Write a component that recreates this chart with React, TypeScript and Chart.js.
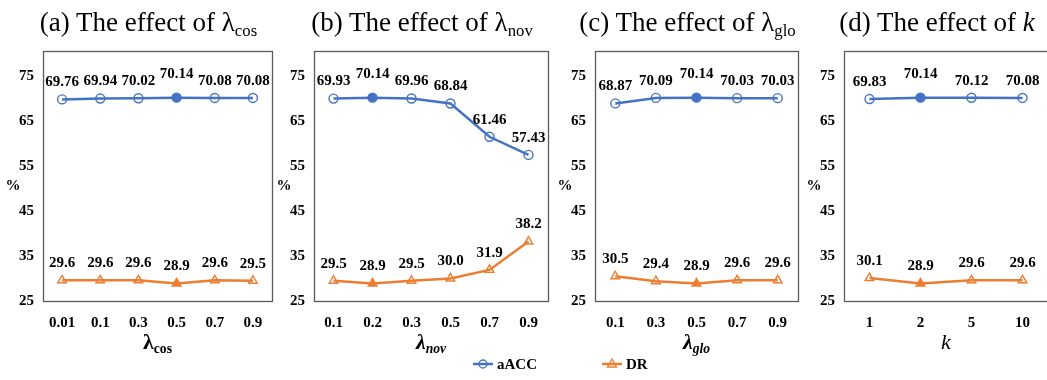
import React, { useEffect, useRef } from 'react';
import { Chart, registerables } from 'chart.js';

Chart.register(...registerables);

// ---------------- data ----------------
const cosLabels = ['0.01', '0.1', '0.3', '0.5', '0.7', '0.9'];
const cosACC = [69.76, 69.94, 70.02, 70.14, 70.08, 70.08];
const cosDR = [29.6, 29.6, 29.6, 28.9, 29.6, 29.5];

const novLabels = ['0.1', '0.2', '0.3', '0.5', '0.7', '0.9'];
const novACC = [69.93, 70.14, 69.96, 68.84, 61.46, 57.43];
const novDR = [29.5, 28.9, 29.5, 30.0, 31.9, 38.2];

const gloLabels = ['0.1', '0.3', '0.5', '0.7', '0.9'];
const gloACC = [68.87, 70.09, 70.14, 70.03, 70.03];
const gloDR = [30.5, 29.4, 28.9, 29.6, 29.6];

const kLabels = ['1', '2', '5', '10'];
const kACC = [69.83, 70.14, 70.12, 70.08];
const kDR = [30.1, 28.9, 29.6, 29.6];

const chosenSettings = ['0.5', '0.2', '0.5', '2'];
const yTicks = [25, 35, 45, 55, 65, 75];
const yMin = 25;
const yMax = 80.5;
const seriesNames = ['aACC', 'DR'];

// ---------------- style ----------------
const FONT = "'Liberation Serif', 'Times New Roman', serif";
const BLUE = '#4472C4';
const ORANGE = '#ED7D31';
const BOX_TOP = 51;
const BOX_BOTTOM = 301;
const Y_AXIS_W = 43;
const X_AXIS_H = 34;
const RIGHT_PAD = 30;

const boxPlugin = {
  id: 'boxFrame',
  beforeDatasetsDraw(chart: any) {
    const { ctx, chartArea: a } = chart;
    ctx.save();
    ctx.strokeStyle = '#5a5a5a';
    ctx.lineWidth = 1.3;
    ctx.strokeRect(
      Math.round(a.left) + 0.5,
      Math.round(a.top) + 0.5,
      Math.round(a.right - a.left),
      Math.round(a.bottom - a.top)
    );
    ctx.restore();
  },
};

const valuePlugin = {
  id: 'valueLabels',
  afterDatasetsDraw(chart: any, _args: any, opts: any) {
    const { ctx } = chart;
    ctx.save();
    ctx.font = `bold 15px ${FONT}`;
    ctx.fillStyle = '#000';
    ctx.textAlign = 'center';
    ctx.textBaseline = 'middle';
    chart.data.datasets.forEach((ds: any, di: number) => {
      const meta = chart.getDatasetMeta(di);
      const dec = opts.decimals[di];
      meta.data.forEach((pt: any, i: number) => {
        const v = ds.data[i] as number;
        let off = 17;
        if (i === opts.chosen && di === 0) off = 24;
        ctx.fillText(v.toFixed(dec), pt.x, pt.y - off);
      });
    });
    ctx.restore();
  },
};

type PanelCfg = {
  labels: string[];
  acc: number[];
  dr: number[];
  chosen: string;
  boxLeft: number;
  boxRight: number;
  title: React.ReactNode;
  xTitle: React.ReactNode;
};

function Panel({ cfg }: { cfg: PanelCfg }) {
  const ref = useRef<HTMLCanvasElement | null>(null);
  const boxW = cfg.boxRight - cfg.boxLeft;
  const cw = Y_AXIS_W + boxW + RIGHT_PAD;
  const ch = BOX_BOTTOM + X_AXIS_H;
  const left = cfg.boxLeft - Y_AXIS_W;

  useEffect(() => {
    if (!ref.current) return;
    const chosenIdx = cfg.labels.indexOf(cfg.chosen);
    const fillArr = (c: string) =>
      cfg.labels.map((_, i) => (i === chosenIdx ? c : 'rgba(255,255,255,0)'));
    const chart = new Chart(ref.current, {
      type: 'line',
      data: {
        labels: cfg.labels,
        datasets: [
          {
            label: seriesNames[0],
            data: cfg.acc,
            borderColor: BLUE,
            borderWidth: 2.5,
            pointStyle: 'circle',
            pointRadius: 4.5,
            pointHoverRadius: 4.5,
            pointBorderWidth: 1.4,
            pointBorderColor: BLUE,
            pointBackgroundColor: fillArr(BLUE),
            tension: 0,
          },
          {
            label: seriesNames[1],
            data: cfg.dr,
            borderColor: ORANGE,
            borderWidth: 2.5,
            pointStyle: 'triangle',
            pointRadius: 5,
            pointHoverRadius: 5,
            pointBorderWidth: 1.4,
            pointBorderColor: ORANGE,
            pointBackgroundColor: fillArr(ORANGE),
            tension: 0,
          },
        ],
      },
      options: {
        animation: false,
        responsive: false,
        devicePixelRatio: 1,
        events: [],
        layout: { padding: { top: BOX_TOP, right: RIGHT_PAD, left: 0, bottom: 0 } },
        plugins: {
          legend: { display: false },
          title: { display: false },
          tooltip: { enabled: false },
          valueLabels: { chosen: chosenIdx, decimals: [2, 1] },
        } as any,
        scales: {
          x: {
            type: 'category',
            offset: true,
            grid: { display: false, drawTicks: false },
            border: { display: false },
            ticks: {
              font: { family: FONT, size: 15, weight: 'bold' },
              color: '#000',
              padding: 13,
              autoSkip: false,
              maxRotation: 0,
            },
            afterFit: (s: any) => {
              s.height = X_AXIS_H;
            },
          },
          y: {
            type: 'linear',
            min: yMin,
            max: yMax,
            grid: { display: false, drawTicks: false },
            border: { display: false },
            ticks: {
              font: { family: FONT, size: 15, weight: 'bold' },
              color: '#000',
              padding: 9,
            },
            afterBuildTicks: (s: any) => {
              s.ticks = yTicks.map((v) => ({ value: v }));
            },
            afterFit: (s: any) => {
              s.width = Y_AXIS_W;
            },
          },
        },
      } as any,
      plugins: [boxPlugin, valuePlugin],
    });
    return () => chart.destroy();
  }, []);

  const boxCenter = (cfg.boxLeft + cfg.boxRight) / 2;
  const center: React.CSSProperties = {
    position: 'absolute',
    transform: 'translate(-50%, -50%)',
    whiteSpace: 'nowrap',
    lineHeight: 1,
    fontFamily: FONT,
    color: '#000',
  };

  return (
    <>
      <canvas
        ref={ref}
        width={cw}
        height={ch}
        style={{ position: 'absolute', left, top: 0, width: cw, height: ch }}
      />
      <div style={{ ...center, left: boxCenter - 9, top: 22, fontSize: 27 }}>{cfg.title}</div>
      <div style={{ ...center, left: boxCenter, top: 342, fontSize: 22, fontWeight: 'bold' }}>
        {cfg.xTitle}
      </div>
      <div
        style={{ ...center, left: cfg.boxLeft - 30, top: 185, fontSize: 15, fontWeight: 'bold' }}
      >
        %
      </div>
    </>
  );
}

const sub = (t: string, extra: React.CSSProperties = {}) => (
  <span style={{ fontSize: '0.62em', position: 'relative', top: '0.3em', ...extra }}>{t}</span>
);

const panels: PanelCfg[] = [
  {
    labels: cosLabels,
    acc: cosACC,
    dr: cosDR,
    chosen: chosenSettings[0],
    boxLeft: 43,
    boxRight: 272,
    title: (
      <span>
        (a) The effect of λ{sub('cos')}
      </span>
    ),
    xTitle: (
      <span>
        λ{sub('cos')}
      </span>
    ),
  },
  {
    labels: novLabels,
    acc: novACC,
    dr: novDR,
    chosen: chosenSettings[1],
    boxLeft: 314,
    boxRight: 548,
    title: (
      <span>
        (b) The effect of λ{sub('nov')}
      </span>
    ),
    xTitle: (
      <span style={{ fontStyle: 'italic' }}>
        λ{sub('nov')}
      </span>
    ),
  },
  {
    labels: gloLabels,
    acc: gloACC,
    dr: gloDR,
    chosen: chosenSettings[2],
    boxLeft: 595,
    boxRight: 798,
    title: (
      <span>
        (c) The effect of λ{sub('glo')}
      </span>
    ),
    xTitle: (
      <span style={{ fontStyle: 'italic' }}>
        λ{sub('glo')}
      </span>
    ),
  },
  {
    labels: kLabels,
    acc: kACC,
    dr: kDR,
    chosen: chosenSettings[3],
    boxLeft: 844,
    boxRight: 1048,
    title: (
      <span>
        (d) The effect of <i>k</i>
      </span>
    ),
    xTitle: <span style={{ fontStyle: 'italic', fontWeight: 'normal' }}>k</span>,
  },
];

function LegendItem({ x, color, marker, text }: { x: number; color: string; marker: 'circle' | 'triangle'; text: string }) {
  return (
    <div
      style={{
        position: 'absolute',
        left: x,
        top: 355,
        height: 18,
        display: 'flex',
        alignItems: 'center',
        fontFamily: FONT,
        fontWeight: 'bold',
        fontSize: 15,
        whiteSpace: 'nowrap',
      }}
    >
      <svg width={20} height={14} style={{ marginRight: 4 }}>
        <line x1={0} y1={7} x2={20} y2={7} stroke={color} strokeWidth={2.5} />
        {marker === 'circle' ? (
          <circle cx={10} cy={7} r={4} fill="none" stroke={color} strokeWidth={1.3} />
        ) : (
          <polygon points="10,2 14.5,10 5.5,10" fill="none" stroke={color} strokeWidth={1.3} />
        )}
      </svg>
      <span>{text}</span>
    </div>
  );
}

export default function App() {
  return (
    <div
      style={{
        position: 'fixed',
        left: 0,
        top: 0,
        width: 1047,
        height: 380,
        overflow: 'hidden',
        background: '#fff',
      }}
    >
      {panels.map((p, i) => (
        <Panel key={i} cfg={p} />
      ))}
      <LegendItem x={473} color={BLUE} marker="circle" text={seriesNames[0]} />
      <LegendItem x={602} color={ORANGE} marker="triangle" text={seriesNames[1]} />
    </div>
  );
}
